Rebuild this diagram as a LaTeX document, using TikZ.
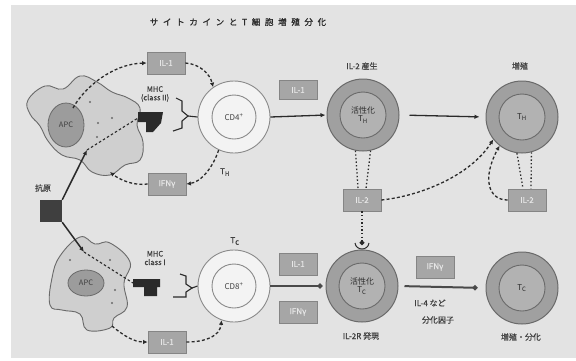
\documentclass[tikz,border=0pt]{standalone}
\usepackage{fontspec}
\setmainfont{Noto Sans CJK JP}
\usetikzlibrary{arrows.meta,calc,shapes.geometric}
\definecolor{bg}{HTML}{E3E3E3}
\definecolor{boxfill}{HTML}{A6A6A6}
\definecolor{boxline}{HTML}{858585}
\definecolor{boxtext}{HTML}{E6E6E6}
\definecolor{restfill}{HTML}{F3F3F3}
\definecolor{restline}{HTML}{8A8A8A}
\definecolor{actfill}{HTML}{A0A0A0}
\definecolor{actcore}{HTML}{B2B2B2}
\definecolor{actline}{HTML}{6A6A6A}
\definecolor{apcfill}{HTML}{CFCFCF}
\definecolor{apcline}{HTML}{6A6A6A}
\definecolor{nucfill}{HTML}{9C9C9C}
\definecolor{ink}{HTML}{2A2A2A}
\definecolor{labelink}{HTML}{404040}
\begin{document}
\begin{tikzpicture}[x=1pt,y=-1pt,
  cyto/.style={draw=boxline, fill=boxfill, line width=0.8pt, minimum width=38pt,
    minimum height=22pt, inner sep=0pt, text=boxtext,
    font=\fontsize{8}{9}\selectfont\addfontfeature{FakeBold=0.8}},
  restcell/.style={circle, draw=restline, fill=restfill, line width=0.9pt,
    minimum size=72pt, inner sep=0pt},
  restcore/.style={circle, draw=restline, line width=0.9pt, minimum size=44pt,
    inner sep=0pt, text=labelink, font=\fontsize{8}{9}\selectfont},
  actcell/.style={circle, draw=actline, fill=actfill, line width=1pt,
    minimum size=72pt, inner sep=0pt},
  actcore/.style={circle, draw=actline, fill=actcore, line width=0.9pt,
    minimum size=46pt, inner sep=0pt, align=center, text=ink,
    font=\fontsize{8}{8.5}\selectfont},
  apcbody/.style={draw=apcline, fill=apcfill, line width=0.9pt},
  nucleus/.style={ellipse, draw=apcline, fill=nucfill, line width=0.8pt,
    inner sep=0pt, text=labelink, font=\fontsize{7.5}{8}\selectfont},
  dashconn/.style={draw=ink, line width=1.3pt, dash pattern=on 3pt off 2.2pt,
    -{Latex[length=4.5pt,width=4.5pt]}},
  innerdash/.style={draw=ink, line width=1.1pt, dash pattern=on 2.5pt off 2.2pt},
  dotconn/.style={draw=ink, line width=1.3pt, dash pattern=on 1.4pt off 2.2pt},
  mainarrow/.style={draw=ink, line width=1.3pt, -{Latex[length=5pt,width=4.5pt]}},
  thickarrow/.style={draw=ink!85, line width=2pt, -{Circle[length=5pt]}},
  lbl/.style={text=labelink, inner sep=0pt,
    font=\fontsize{8}{10}\selectfont\addfontfeature{FakeBold=0.6}},
  dot/.style={fill=apcline}
]
\useasboundingbox (0,0) rectangle (576,360);
\fill[white] (0,0) rectangle (576,360);
\fill[bg] (11,5) rectangle (576,358);

% title
\node[lbl, text=ink,
  font=\fontsize{8.5}{10}\selectfont\addfontfeature{LetterSpace=55,FakeBold=1.2}]
  (title) at (238,22) {サイトカインとT細胞増殖分化};

% ---------- upper antigen presenting cell ----------
\draw[apcbody] plot[smooth cycle, tension=0.7] coordinates {
  (28,100) (45,86) (63,89) (80,76) (97,82) (112,92) (128,98) (140,108)
  (137,125) (143,142) (140,160) (125,165) (110,175) (92,172) (80,160)
  (62,155) (48,141) (40,126) (30,114)};
\node[nucleus, minimum width=36pt, minimum height=44pt] (apc1) at (66,125) {APC};
\foreach \p in {(90,102),(98,123),(112,118),(97,137)} \fill[dot] \p circle (1.1pt);

% ---------- lower antigen presenting cell ----------
\draw[apcbody] plot[smooth cycle, tension=0.7] coordinates {
  (52,278) (60,256) (80,237) (95,244) (110,243) (130,262) (124,283)
  (127,307) (114,318) (110,328) (87,330) (80,314) (62,310) (50,305)};
\node[nucleus, minimum width=36pt, minimum height=26pt] (apc2) at (86,283) {APC};
\foreach \p in {(70,260),(110,260),(115,290),(112,303)} \fill[dot] \p circle (1.1pt);

% MHC molecules
\fill[ink] (138,112) -- (163,112) -- (161,123) -- (153,132) -- (146,132)
  -- (146,122) -- (138,122) -- cycle;
\fill[ink] (133,279) -- (160,279) -- (160,287) -- (157,287) -- (157,296)
  -- (144,296) -- (144,287) -- (133,287) -- cycle;
\coordinate (mhc2) at (138,118);
\coordinate (mhc1) at (133,283);

% MHC labels
\node[lbl, font=\fontsize{7.5}{8.5}\selectfont\addfontfeature{FakeBold=0.6}, align=center]
  (mhc2lbl) at (155,94) {MHC\\(class II)};
\node[lbl, font=\fontsize{7.5}{8.5}\selectfont\addfontfeature{FakeBold=0.6}, align=center]
  (mhc1lbl) at (155,258) {MHC\\class I};

% ---------- resting T cells ----------
\node[restcell] (cd4) at (234,117) {};
\node[restcore] (cd4in) at (cd4.center) {CD4\textsuperscript{+}};
\node[restcell] (cd8) at (234,286) {};
\node[restcore] (cd8in) at (cd8.center) {CD8\textsuperscript{+}};
\node[lbl] (thlbl) at (225,172) {T\textsubscript{H}};
\node[lbl] (tclbl) at (235,241) {T\textsubscript{C}};

% T cell receptors
\coordinate (tcr4) at (188,116);
\coordinate (tcr8) at (192,288);
\draw[ink, line width=1.1pt] (176,98) -- (182,101) -- (182,111) -- (tcr4) -- (182,121)
  -- (182,128) -- (173,131);
\draw[ink, line width=1.1pt] (tcr4) -- (cd4.west);
\draw[ink, line width=1.1pt] (180,274) -- (186,276) -- (186,284) -- (tcr8) -- (186,292)
  -- (186,297) -- (173,297);
\draw[ink, line width=1.1pt] (tcr8) -- (cd8.west);

% ---------- activated and proliferating cells ----------
\node[actcell] (th) at (363,115) {};
\node[actcore] (thin) at (th.center) {活性化\\T\textsubscript{H}};
\node[actcell] (rt) at (522,117) {};
\node[actcore] (rtin) at (rt.center) {T\textsubscript{H}};
\node[actcell] (tc) at (362,286) {};
\node[actcore] (tcin) at (tc.center) {活性化\\T\textsubscript{C}};
\node[actcell] (rb) at (522,288) {};
\node[actcore] (rbin) at (rb.center) {T\textsubscript{C}};

\node[lbl] (il2prod) at (362,66) {IL-2 産生};
\node[lbl] (prolif) at (520,66) {増殖};
\node[lbl] (il2rexp) at (361,336) {IL-2R 発現};
\node[lbl] (profdiff) at (521,337) {増殖・分化};
\node[lbl] (il4) at (430,303) {IL-4 など};
\node[lbl] (difffac) at (438,320) {分化因子};

% ---------- cytokines ----------
\node[cyto] (il1a) at (166,63) {IL-1};
\node[cyto] (ifna) at (167,184) {IFNγ};
\node[cyto, minimum height=19pt] (il1m) at (298,90) {IL-1};
\node[cyto] (il2m) at (362,200) {IL-2};
\node[cyto] (il2r) at (527,200) {IL-2};
\node[cyto] (il1b) at (298,264) {IL-1};
\node[cyto] (ifnb) at (298,312) {IFNγ};
\node[cyto] (ifnc) at (435,267) {IFNγ};
\node[cyto] (il1c) at (167,342) {IL-1};

% ---------- antigen ----------
\node[fill=ink!90, minimum size=22pt, inner sep=0pt] (ag) at (51,211) {};
\node[lbl] (aglbl) at (43,188) {抗原};
\coordinate (entry1) at (87,150);
\coordinate (entry2) at (84,252);
\draw[ink, line width=1.5pt, -{Latex[length=5pt,width=4.5pt]}] (ag.north east) -- (entry1);
\draw[ink, line width=1.5pt, -{Latex[length=5pt,width=4.5pt]}] (ag.south east) -- (entry2);
\draw[innerdash] (entry1) -- (mhc2);
\draw[innerdash] (entry2) -- (mhc1);

% ---------- cytokine loops at the resting cells ----------
\coordinate (apcsrc1) at (73,108);
\coordinate (apcdst1) at (110,172);
\coordinate (apcsrc2) at (112,326);
\draw[dashconn] (apcsrc1) .. controls (84,88) and (112,64) .. (il1a.west);
\draw[dashconn] (il1a.east) .. controls (200,64) and (210,74) .. (cd4.125);
\draw[dashconn] (cd4.245) .. controls (214,165) and (202,182) .. (ifna.east);
\draw[dashconn] (ifna.west) .. controls (134,186) and (120,180) .. (apcdst1);
\draw[dashconn] (apcsrc2) .. controls (124,336) and (134,342) .. (il1c.west);
\draw[dashconn] (il1c.east) .. controls (206,342) and (220,336) .. (cd8.250);

% ---------- activation and proliferation ----------
\draw[mainarrow, shorten >=1pt] (cd4.east) -- (th.west);
\draw[mainarrow, shorten <=10pt, shorten >=6pt] (th.east) -- (rt.west);
\draw[thickarrow, shorten >=3pt] (cd8.east) -- (tc.west);
\draw[thickarrow, shorten <=6pt, shorten >=8pt] (tc.east) -- (rb.west);

% IL-2 secretion and autocrine / paracrine action
\draw[dotconn] (th.258) -- ($(il2m.north)+(-4,0)$);
\draw[dotconn] (th.282) -- ($(il2m.north)+(4,0)$);
\draw[dotconn] (rt.262) -- ($(il2r.north)+(-4,0)$);
\draw[dotconn] (rt.285) -- ($(il2r.north)+(4,0)$);
\draw[dashconn] (il2m.east) .. controls (420,196) and (470,176) .. (rt.218);
\draw[dashconn] (il2r.west) .. controls (488,200) and (482,178) .. (rt.232);
\coordinate (il2rcpt) at (362,245);
\draw[dotconn, -{Circle[length=4.5pt]}] (il2m.south) -- (il2rcpt);
\draw[ink, line width=1pt] (355,243) .. controls (356,251) and (368,251) .. (369,243);
\end{tikzpicture}
\end{document}
